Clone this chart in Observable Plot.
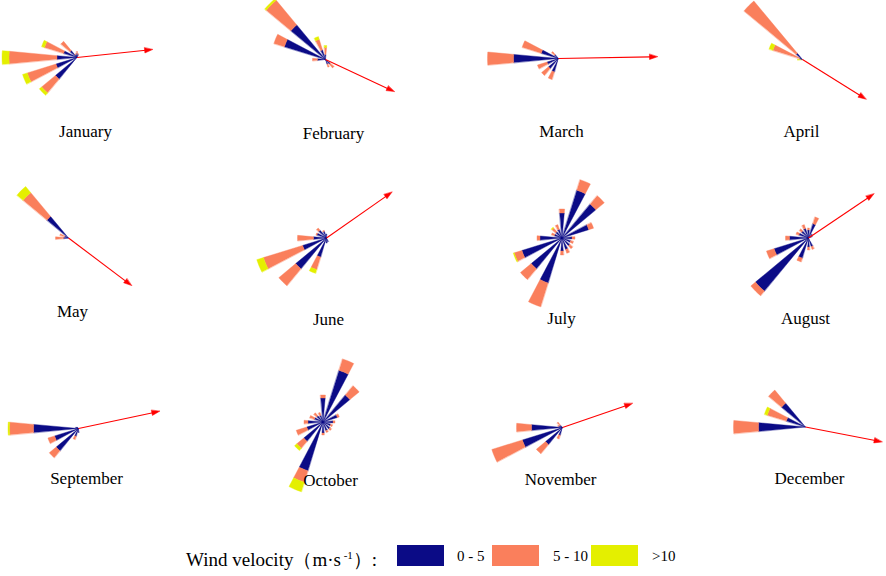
<!DOCTYPE html>
<html><head><meta charset="utf-8">
<script src="https://cdn.jsdelivr.net/npm/d3@7"></script>
<script src="https://cdn.jsdelivr.net/npm/@observablehq/plot@0.6"></script>
<style>
body{margin:0;background:#fff;}
#chart svg{display:block;}
#legend{position:relative;width:886px;height:36px;font-family:"Liberation Serif","DejaVu Serif",serif;color:#000;}
#legend .t{position:absolute;top:6px;line-height:20px;white-space:nowrap;font-size:15px;}
#legend .title{font-size:19px;top:5px;}
#legend .sw{position:absolute;top:5px;width:47px;height:21px;}
sup{font-size:11px;vertical-align:7px;}
</style></head><body>
<div id="chart"></div>
<div id="legend"></div>
<script>
const months = ["January","February","March","April","May","June","July","August","September","October","November","December"];
const directions = ["N","NNE","NE","ENE","E","ESE","SE","SSE","S","SSW","SW","WSW","W","WNW","NW","NNW"];
const classes = ["0 - 5","5 - 10",">10"];
const classColors = ["#0b0b86","#fa7f5c","#e4ef00"];

// petal segment lengths per month (rows) and direction (columns N..NNW)
const speed0to5 = [
  [4,3,0,0,0,0,0,0,0,0,28,22,20,14,9,3],
  [5,0,0,0,0,0,6,5,0,0,0,0,8,43,45,10],
  [0,0,0,0,0,0,0,0,0,14,13,12,45,18,5,0],
  [0,0,0,0,0,0,0,0,0,0,0,0,0,3,8,0],
  [0,0,0,0,0,0,0,0,0,0,0,0,5,4,28,0],
  [4,0,0,0,0,0,0,4,5,20,40,25,13,10,10,7],
  [25,50,44,28,10,9,10,12,13,47,40,42,22,8,8,9],
  [8,15,5,4,0,0,0,9,9,21,69,36,19,10,9,10],
  [0,0,0,0,0,0,0,0,4,8,29,25,45,3,2,0],
  [24,54,35,15,10,8,9,9,11,51,25,17,15,9,8,7],
  [0,0,0,0,0,0,0,0,0,8,22,42,31,4,3,0],
  [0,0,0,0,0,0,0,0,0,0,0,0,47,20,31,0]
];
const speed5to10 = [
  [2,1,0,0,0,0,0,0,0,0,18,30,48,20,12,1],
  [7,0,0,0,0,0,5,3,0,0,0,0,5,11,32,11],
  [0,0,0,0,0,0,0,0,0,8,9,10,26,20,4,0],
  [0,0,0,0,0,0,0,0,0,0,0,0,1,28,68,0],
  [0,0,0,0,0,0,0,0,0,0,0,0,8,5,31,0],
  [0,0,0,0,0,0,0,0,0,13,22,41,16,1,3,1],
  [4,11,11,5,3,3,4,4,4,25,14,8,3,3,5,5],
  [2,7,0,0,0,0,0,3,3,4,6,8,4,3,3,4],
  [0,0,0,0,0,0,0,0,0,3.5,9,7,24,0,0,0],
  [3,12,12,2,2,2,2,2,2,12,9,11,4,5,4,3],
  [0,0,0,0,0,0,0,0,0,4,12,32,15,1,4,0],
  [0,0,0,0,0,0,0,0,0,0,0,0,25,20,17,0]
];
const speedOver10 = [
  [0,0,0,0,0,0,0,0,0,0,3,5,7,3,0,0],
  [2,0,0,0,0,0,0,0,0,0,0,0,0,0,2,3],
  [0,0,0,0,0,0,0,0,0,0,0,0,0,0,0,0],
  [0,0,0,0,0,0,0,0,0,0,0,0,4,4,0,0],
  [0,0,0,0,0,0,0,0,0,0,0,0,0,0,8,0],
  [0,0,0,0,0,0,0,0,0,4,0,7,0,0,0,0],
  [0,0,0,0,0,0,0,0,0,0,0,1,0,0,1,0],
  [0,0,0,0,0,0,0,0,0,0,0,0,0,0,0,0],
  [0,0,0,0,0,0,0,0,0,0,0,0,1.5,0,0,0],
  [0,0,0,0,0,0,0,0,0,10,3,0,0,0,0,0],
  [0,0,0,0,0,0,0,0,0,0,0,0,0,0,0,0],
  [0,0,0,0,0,0,0,0,0,0,0,0,0,3,0,0]
];
// resultant vector per month: bearing (deg from north) and length
const arrowBearing = [84,115,89,122,127,55,0,56,78,0,71,101];
const arrowLength = [76,76,99,75,79,80,0,79,83,0,74,78];

// panel layout: rose origin and caption anchor of each month
const panelX = [76.5,325,558,802, 68,326,561.5,808, 78,322.5,562,805];
const panelY = [57,59,58,59, 237.5,237.5,237.5,237.5, 428,421.5,427,426.5];
const labelX = [85,333,561,801, 72,328,561,805, 86,330,560,809];
const labelY = [131,133,131,131, 311,319,318,318, 478,480,479,478];
const petalWidth = 10.5, headLen = 8, headHalf = 2.6;

const rad = d => d*Math.PI/180;
const wedges = [], shafts = [], heads = [], labels = [];
months.forEach((m,i) => {
  const cx = panelX[i], cy = panelY[i];
  labels.push({x: labelX[i], y: labelY[i], text: m});
  directions.forEach((d,j) => {
    let r0 = 0;
    [speed0to5, speed5to10, speedOver10].forEach((arr,k) => {
      const v = arr[i][j];
      if (!v) return;
      const r1 = r0 + v, b = j*22.5, id = `${m}-${d}-${k}`, steps = 4;
      for (let s=0; s<=steps; s++) { const a = rad(b - petalWidth/2 + petalWidth*s/steps); wedges.push({id, cls: classes[k], x: cx + r1*Math.sin(a), y: cy - r1*Math.cos(a)}); }
      for (let s=steps; s>=0; s--) { const a = rad(b - petalWidth/2 + petalWidth*s/steps); wedges.push({id, cls: classes[k], x: cx + r0*Math.sin(a), y: cy - r0*Math.cos(a)}); }
      r0 = r1;
    });
  });
  const L = arrowLength[i];
  if (L > 0) {
    const a = rad(arrowBearing[i]), ux = Math.sin(a), uy = -Math.cos(a);
    const tx = cx + L*ux, ty = cy + L*uy, bx = tx - headLen*ux, by = ty - headLen*uy;
    shafts.push({x1: cx, y1: cy, x2: bx + ux, y2: by + uy});
    heads.push({id: m, x: tx, y: ty}, {id: m, x: bx - headHalf*uy, y: by + headHalf*ux}, {id: m, x: bx + headHalf*uy, y: by - headHalf*ux});
  }
});

const chart = Plot.plot({
  width: 886, height: 540, margin: 0,
  x: {domain: [0, 886], range: [0, 886], axis: null},
  y: {domain: [0, 540], range: [0, 540], axis: null},
  color: {domain: classes, range: classColors},
  marks: [
    Plot.line(wedges, {x: "x", y: "y", z: "id", fill: "cls", stroke: "cls", strokeWidth: 0.4, curve: "linear-closed"}),
    Plot.link(shafts, {x1: "x1", y1: "y1", x2: "x2", y2: "y2", stroke: "#ff0000", strokeWidth: 1.1}),
    Plot.line(heads, {x: "x", y: "y", z: "id", fill: "#ff0000", stroke: "#ff0000", strokeWidth: 0.5, curve: "linear-closed"}),
    Plot.text(labels, {x: "x", y: "y", text: "text", fontSize: 17, fontFamily: "Liberation Serif, serif", fill: "#000"})
  ]
});
document.getElementById("chart").appendChild(chart);

const lg = document.getElementById("legend");
lg.innerHTML = `<span class="t title" style="left:186px">Wind velocity（m·s<sup> -1</sup>）:</span>` +
  classes.map((c,k) => `<span class="sw" style="left:${[397,492,591][k]}px;background:${classColors[k]}"></span><span class="t" style="left:${[457,553,652][k]}px">${c.replace(">","&gt;")}</span>`).join("");
</script>
</body></html>
